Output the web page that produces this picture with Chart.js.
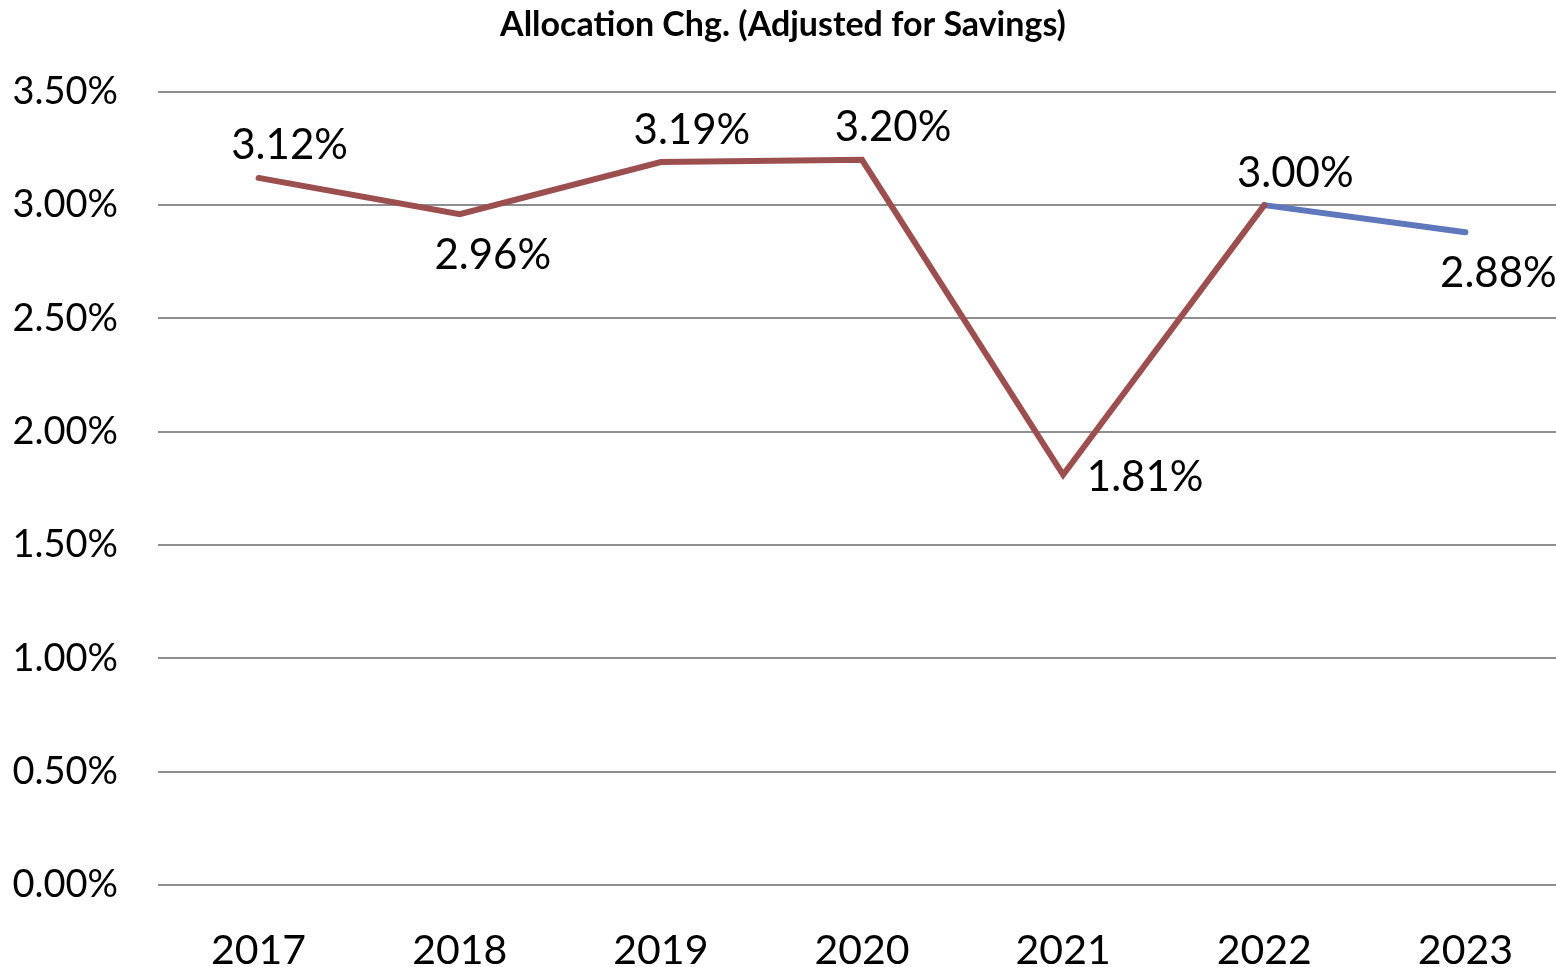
<!DOCTYPE html>
<html>
<head>
<meta charset="utf-8">
<script src="https://cdn.jsdelivr.net/npm/chart.js@4/dist/chart.umd.min.js"></script>
<style>
  html, body { margin: 0; padding: 0; background: #fff; overflow: hidden; }
  #wrap { width: 1566px; height: 967px; }
</style>
</head>
<body>
<div id="wrap"><canvas id="chart" width="1566" height="967"></canvas></div>
<script>
// chart data
const years = ["2017", "2018", "2019", "2020", "2021", "2022", "2023"];
const actualValues = [3.12, 2.96, 3.19, 3.20, 1.81, 3.00, null];
const projectedValues = [null, null, null, null, null, 3.00, 2.88];
const labelValues = [3.12, 2.96, 3.19, 3.20, 1.81, 3.00, 2.88];
const labelPlacement = ["above", "below", "above", "above", "right", "above", "below"];

const FONT = "Lato, 'Open Sans', sans-serif";

// draws the value labels next to each point (like excel does)
const pointLabels = {
  id: "pointLabels",
  afterDatasetsDraw(chart) {
    const { ctx, scales } = chart;
    const shift = {
      above: [31, -32],
      below: [33, 41],
      right: [82, 3]
    };
    ctx.save();
    ctx.font = "42px " + FONT;
    ctx.fillStyle = "#000";
    ctx.textAlign = "center";
    ctx.textBaseline = "middle";
    labelValues.forEach((v, i) => {
      const x = scales.x.getPixelForValue(i);
      const y = scales.y.getPixelForValue(v);
      const [dx, dy] = shift[labelPlacement[i]];
      ctx.fillText(v.toFixed(2) + "%", x + dx, y + dy);
    });
    ctx.restore();
  }
};

new Chart(document.getElementById("chart"), {
  type: "line",
  data: {
    labels: years,
    datasets: [
      {
        data: actualValues,
        borderColor: "#9c4f4f",
        borderWidth: 6,
        borderCapStyle: "round",
        pointRadius: 0,
        tension: 0
      },
      {
        data: projectedValues,
        borderColor: "#5f77bb",
        borderWidth: 6,
        borderCapStyle: "round",
        pointRadius: 0,
        tension: 0
      }
    ]
  },
  options: {
    responsive: false,
    animation: false,
    layout: { padding: 0 },
    plugins: {
      legend: { display: false },
      tooltip: { enabled: false },
      title: {
        display: true,
        text: "Allocation Chg. (Adjusted for Savings)",
        color: "#000",
        font: { family: FONT, size: 34, weight: "bold" },
        padding: { top: 5, bottom: 46 }
      }
    },
    scales: {
      x: {
        offset: true,
        grid: { display: false },
        border: { display: false },
        afterFit: s => { s.height = 82; },
        ticks: {
          color: "#000",
          font: { family: FONT, size: 41 },
          padding: 33,
          maxRotation: 0
        }
      },
      y: {
        min: 0,
        max: 3.5,
        grid: { color: "#8e8e8e", lineWidth: 2, drawTicks: false },
        border: { display: false },
        afterFit: s => { s.width = 158; },
        ticks: {
          stepSize: 0.5,
          color: "#000",
          font: { family: FONT, size: 38 },
          padding: 40,
          callback: v => v.toFixed(2) + "%"
        }
      }
    }
  },
  plugins: [pointLabels]
});
</script>
</body>
</html>
